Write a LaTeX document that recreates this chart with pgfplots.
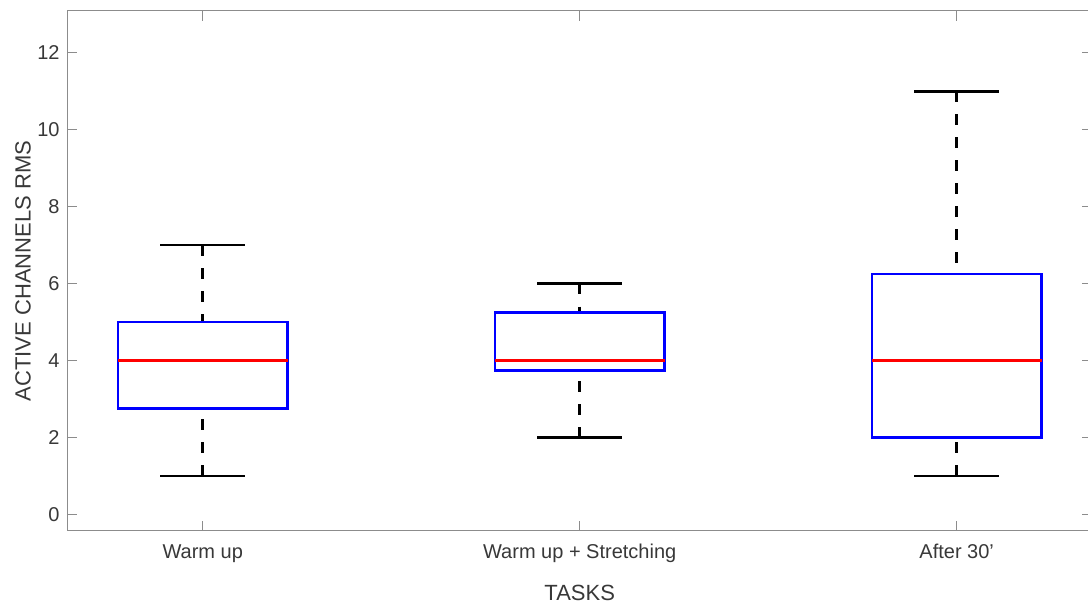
\documentclass[border=0pt]{standalone}
\usepackage{fontspec}
\setmainfont{Liberation Sans}
\usepackage{pgfplots}
\pgfplotsset{compat=1.18}
\usepgfplotslibrary{statistics}
\definecolor{axgray}{gray}{0.55}
\definecolor{txtgray}{gray}{0.22}
\pgfplotsset{
  boxplot/draw/lower whisker/.code={%
    \draw[black, line width=1.5pt, dash pattern=on 5.25pt off 6.25pt]
      (boxplot box cs:\pgfplotsboxplotvalue{lower whisker},0.5) --
      (boxplot box cs:\pgfplotsboxplotvalue{lower quartile},0.5);
    \draw[black, line width=1.25pt, solid]
      (boxplot whisker cs:\pgfplotsboxplotvalue{lower whisker},0) --
      (boxplot whisker cs:\pgfplotsboxplotvalue{lower whisker},1);
  },
  boxplot/draw/upper whisker/.code={%
    \draw[black, line width=1.5pt, dash pattern=on 5.25pt off 6.25pt]
      (boxplot box cs:\pgfplotsboxplotvalue{upper whisker},0.5) --
      (boxplot box cs:\pgfplotsboxplotvalue{upper quartile},0.5);
    \draw[black, line width=1.25pt, solid]
      (boxplot whisker cs:\pgfplotsboxplotvalue{upper whisker},0) --
      (boxplot whisker cs:\pgfplotsboxplotvalue{upper whisker},1);
  },
}
\begin{document}
\begin{tikzpicture}
\begin{axis}[
  at={(0,0)}, anchor=south west,
  scale only axis,
  width=512.7pt, height=260pt,
  xmin=0.64, xmax=3.36,
  ymin=-0.43, ymax=13.09,
  xtick={1,2,3},
  xticklabels={Warm up, Warm up + Stretching, After 30’},
  ytick={0,2,4,6,8,10,12},
  tick pos=both,
  tick align=inside,
  major tick length=5pt,
  axis line style={axgray, line width=0.5pt},
  every tick/.style={axgray, line width=0.5pt},
  /pgf/number format/assume math mode=true,
  tick label style={font=\fontsize{10}{12}\selectfont, text=txtgray},
  xticklabel style={anchor=base, yshift=-14pt},
  yticklabel style={anchor=east, inner sep=0pt, xshift=-3.5pt},
  xlabel={TASKS},
  ylabel={ACTIVE CHANNELS RMS},
  label style={font=\fontsize{11}{13}\selectfont, text=txtgray},
  xlabel style={at={(axis description cs:0.5,0)}, anchor=base, yshift=-35pt},
  ylabel style={at={(axis description cs:-0.0429,0.5)}, anchor=center},
  boxplot/draw direction=y,
  boxplot/box extend=0.45,
  boxplot/whisker extend=0.225,
  boxplot/every median/.style={red, line width=1.3pt},
  boxplot/every box/.style={blue, line width=1.3pt},
]
\addplot[blue, line width=1.3pt, boxplot prepared={draw position=1,
  lower whisker=1, lower quartile=2.75, median=4, upper quartile=5, upper whisker=7}]
  coordinates {};
\addplot[blue, line width=1.3pt, boxplot prepared={draw position=2,
  lower whisker=2, lower quartile=3.75, median=4, upper quartile=5.25, upper whisker=6}]
  coordinates {};
\addplot[blue, line width=1.3pt, boxplot prepared={draw position=3,
  lower whisker=1, lower quartile=2, median=4, upper quartile=6.25, upper whisker=11}]
  coordinates {};
\end{axis}
\pgfresetboundingbox
\path[use as bounding box] (-33.5pt,-36.5pt) rectangle (510.5pt,265.5pt);
\end{tikzpicture}
\end{document}
